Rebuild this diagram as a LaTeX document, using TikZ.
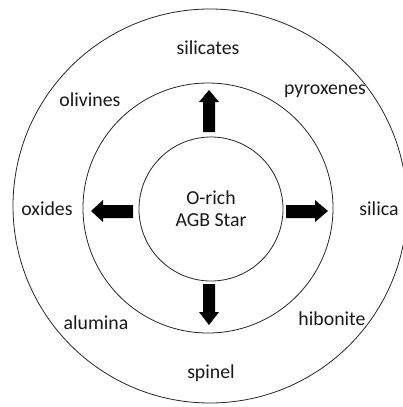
\documentclass[tikz,border=0pt]{standalone}
\usepackage{fontspec}
\setmainfont{Carlito}
\begin{document}
\begin{tikzpicture}[x=1pt,y=-1pt,
  ring/.style={draw=black!85,line width=0.8pt},
  lbl/.style={font=\fontsize{19.8}{22}\selectfont,inner sep=0pt,text=black!90},
  blk/.style={fill=black}]
\useasboundingbox (0,0) rectangle (402,407);
\fill[white] (0,0) rectangle (402,407);
\node[ring,circle,minimum size=394pt,inner sep=0pt] (outer) at (210,206) {};
\node[ring,circle,minimum size=250pt,inner sep=0pt] (middle) at (208,208) {};
\node[ring,circle,minimum size=144pt,inner sep=0pt,align=center,font=\fontsize{19.8}{22}\selectfont,text=black!90] (star) at (211,209) {O-rich\\AGB Star};
% arrows
\fill[blk] (203,132) -- (203,102) -- (199,102) -- (209,90) -- (219,102) -- (215,102) -- (215,132) -- cycle;
\fill[blk] (203,284) -- (203,312) -- (199,312) -- (209,325) -- (219,312) -- (215,312) -- (215,284) -- cycle;
\fill[blk] (286,205) -- (315,205) -- (315,200) -- (328,211) -- (315,222) -- (315,218) -- (286,218) -- cycle;
\fill[blk] (133,205) -- (103,205) -- (103,200) -- (91,211) -- (103,222) -- (103,218) -- (133,218) -- cycle;
% labels
\node[lbl] (silicates) at (208,48) {silicates};
\node[lbl] (pyroxenes) at (325,91) {pyroxenes};
\node[lbl] (olivines) at (90,100) {olivines};
\node[lbl] (oxides) at (47,209) {oxides};
\node[lbl] (silica) at (379,209) {silica};
\node[lbl] (alumina) at (96,323) {alumina};
\node[lbl] (hibonite) at (332,319) {hibonite};
\node[lbl] (spinel) at (211,373) {spinel};
\end{tikzpicture}
\end{document}
